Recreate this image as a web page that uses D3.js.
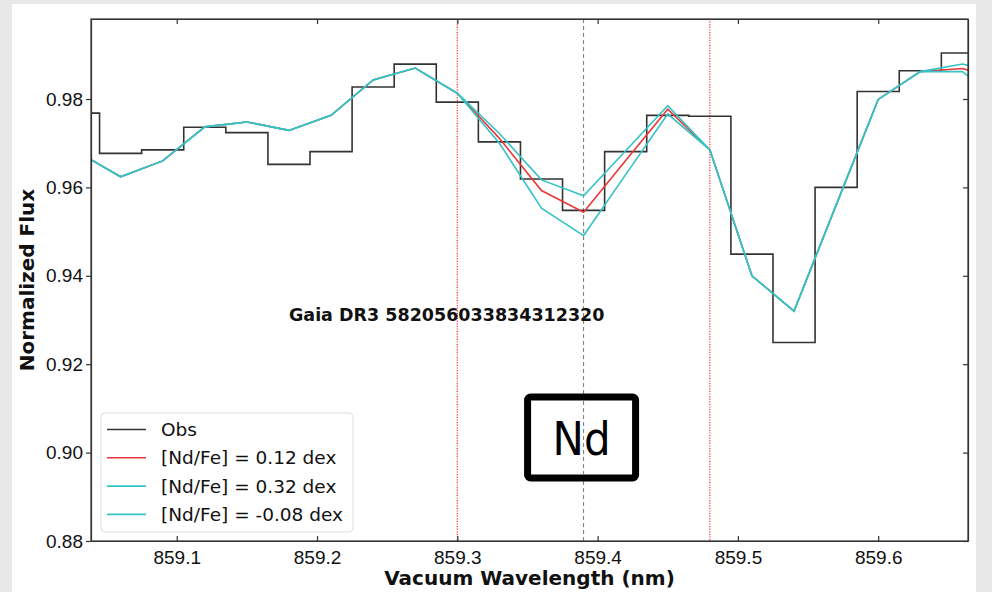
<!DOCTYPE html>
<html lang="en">
<head>
    <meta charset="UTF-8">
    <title>Nd line fit</title>
    <script src="https://d3js.org/d3.v7.min.js"></script>
    <style>
        body { margin: 0; background: #e8e8e8; }
        svg { display: block; font-family: "DejaVu Sans", sans-serif; }
        .tick text { font-size: 19px; fill: #111; }
        .domain, .tick line { stroke: #333; stroke-width: 1.2; }
    </style>
</head>
<body>
<script>
    // wavelength grid (nm) - observed pixel centres, last one just past the right edge
    const wavelength = [859.03, 859.06, 859.09, 859.12, 859.15, 859.18, 859.21, 859.24,
        859.27, 859.30, 859.33, 859.36, 859.39, 859.42, 859.45, 859.48, 859.51, 859.54,
        859.57, 859.60, 859.63, 859.66, 859.69];

    const obsFlux = [0.9768, 0.9677, 0.9685, 0.9736, 0.9724, 0.9652, 0.9681, 0.9827,
        0.9879, 0.9793, 0.9703, 0.9619, 0.9548, 0.9681, 0.9763, 0.9761, 0.9449, 0.9249,
        0.9600, 0.9817, 0.9864, 0.9904, 0.9904];

    const synBest = [0.9679, 0.9624, 0.9660, 0.9737, 0.9748, 0.9729, 0.9763, 0.9843,
        0.9870, 0.9813, 0.9711, 0.9593, 0.9544, 0.9661, 0.9777, 0.9685, 0.9400, 0.9320,
        0.9560, 0.9799, 0.9862, 0.9869, 0.9841];

    const synPlus = [0.9679, 0.9624, 0.9660, 0.9737, 0.9748, 0.9729, 0.9763, 0.9843,
        0.9870, 0.9813, 0.9700, 0.9553, 0.9491, 0.9629, 0.9766, 0.9685, 0.9400, 0.9320,
        0.9560, 0.9799, 0.9862, 0.9862, 0.9789];

    const synMinus = [0.9679, 0.9624, 0.9660, 0.9737, 0.9748, 0.9729, 0.9763, 0.9843,
        0.9870, 0.9813, 0.9722, 0.9617, 0.9581, 0.9683, 0.9785, 0.9685, 0.9400, 0.9320,
        0.9560, 0.9799, 0.9862, 0.9879, 0.9857];

    const xTicks = [859.1, 859.2, 859.3, 859.4, 859.5, 859.6];
    const yTicks = [0.88, 0.90, 0.92, 0.94, 0.96, 0.98];
    const lineCentre = 859.39;
    const windowEdges = [859.30, 859.48];

    const legendLabels = ["Obs", "[Nd/Fe] = 0.12 dex", "[Nd/Fe] = 0.32 dex", "[Nd/Fe] = -0.08 dex"];
    const starLabel = "Gaia DR3 582056033834312320";

    const W = 992, H = 592;
    const margin = {top: 19, right: 24, bottom: 51, left: 91};
    const width = W - margin.left - margin.right;
    const height = H - margin.top - margin.bottom;

    const svg = d3.select("body").append("svg")
        .attr("width", W).attr("height", H);

    // white card on grey page
    svg.append("rect").attr("x", 12).attr("y", 4).attr("width", 964).attr("height", 590)
        .attr("fill", "#fff");

    const g = svg.append("g")
        .attr("transform", "translate(" + margin.left + "," + margin.top + ")");

    const x = d3.scaleLinear().domain([859.0389, 859.664]).range([0, width]);
    const y = d3.scaleLinear().domain([0.88, 0.9981]).range([height, 0]);

    g.append("clipPath").attr("id", "clip")
        .append("rect").attr("width", width).attr("height", height);

    const plot = g.append("g").attr("clip-path", "url(#clip)");

    // marker lines
    plot.selectAll(".edge").data(windowEdges).enter().append("line")
        .attr("x1", d => x(d)).attr("x2", d => x(d))
        .attr("y1", 0).attr("y2", height)
        .attr("stroke", "#ff2a2a").attr("stroke-width", 1.2)
        .attr("stroke-dasharray", "1.2,1.4");

    plot.append("line")
        .attr("x1", x(lineCentre)).attr("x2", x(lineCentre))
        .attr("y1", 0).attr("y2", height)
        .attr("stroke", "#777").attr("stroke-width", 1)
        .attr("stroke-dasharray", "4,3");

    const stepLine = d3.line().x((d, i) => x(wavelength[i])).y(d => y(d)).curve(d3.curveStep);
    const polyLine = d3.line().x((d, i) => x(wavelength[i])).y(d => y(d));

    const cyan = "#34c3c6";
    const red = "#e8383a";
    const black = "#333";

    // same order as the legend: later ones on top
    plot.append("path").datum(obsFlux).attr("d", stepLine)
        .attr("fill", "none").attr("stroke", black).attr("stroke-width", 1.6);
    plot.append("path").datum(synBest).attr("d", polyLine)
        .attr("fill", "none").attr("stroke", red).attr("stroke-width", 1.6);
    plot.append("path").datum(synPlus).attr("d", polyLine)
        .attr("fill", "none").attr("stroke", cyan).attr("stroke-width", 1.6);
    plot.append("path").datum(synMinus).attr("d", polyLine)
        .attr("fill", "none").attr("stroke", cyan).attr("stroke-width", 1.6);

    // axes: ticks inward except on the left
    g.append("g").attr("transform", "translate(0," + height + ")")
        .call(d3.axisBottom(x).tickValues(xTicks).tickFormat(d3.format(".1f"))
            .tickSizeInner(-5).tickSizeOuter(0).tickPadding(8))
        .call(a => a.selectAll("text").attr("dy", "0.78em"));
    g.append("g")
        .call(d3.axisTop(x).tickValues(xTicks).tickFormat("").tickSizeInner(-5).tickSizeOuter(0));
    g.append("g")
        .call(d3.axisLeft(y).tickValues(yTicks).tickFormat(d3.format(".2f"))
            .tickSizeInner(5).tickSizeOuter(0).tickPadding(3));
    g.append("g").attr("transform", "translate(" + width + ",0)")
        .call(d3.axisRight(y).tickValues(yTicks).tickFormat("").tickSizeInner(-5).tickSizeOuter(0));
    g.append("rect").attr("width", width).attr("height", height)
        .attr("fill", "none").attr("stroke", "#333").attr("stroke-width", 1.2);

    // axis titles
    svg.append("text")
        .attr("x", margin.left + width / 2).attr("y", 585)
        .attr("text-anchor", "middle").attr("font-size", 20).attr("font-weight", "bold")
        .attr("fill", "#111")
        .text("Vacuum Wavelength (nm)");
    svg.append("text")
        .attr("transform", "translate(34," + (margin.top + height / 2) + ") rotate(-90)")
        .attr("text-anchor", "middle").attr("font-size", 20).attr("font-weight", "bold")
        .attr("fill", "#111")
        .text("Normalized Flux");

    // star name
    g.append("text")
        .attr("x", x(859.1) + 270).attr("y", 302)
        .attr("text-anchor", "middle").attr("font-size", 17.5).attr("font-weight", "bold")
        .attr("fill", "#111")
        .text(starLabel);

    // element box
    const bx = x(lineCentre) - 2;
    g.append("rect")
        .attr("x", bx - 54).attr("y", 378).attr("width", 108).attr("height", 81)
        .attr("rx", 3).attr("fill", "#fff").attr("stroke", "#000").attr("stroke-width", 7);
    g.append("line")
        .attr("x1", x(lineCentre)).attr("x2", x(lineCentre))
        .attr("y1", 382).attr("y2", 455)
        .attr("stroke", "#777").attr("stroke-width", 1).attr("stroke-dasharray", "4,3");
    g.append("text")
        .attr("x", bx).attr("y", 436)
        .attr("text-anchor", "middle").attr("font-size", 46)
        .attr("textLength", 58).attr("lengthAdjust", "spacingAndGlyphs")
        .attr("fill", "#000")
        .text("Nd");

    // legend
    const legendColors = [black, red, cyan, cyan];
    const leg = g.append("g").attr("transform", "translate(10,394)");
    leg.append("rect").attr("width", 252).attr("height", 119).attr("rx", 4)
        .attr("fill", "#fff").attr("fill-opacity", 0.8)
        .attr("stroke", "#ddd").attr("stroke-width", 1);
    const rows = leg.selectAll(".row").data(legendLabels).enter().append("g")
        .attr("transform", (d, i) => "translate(0," + (16.5 + i * 28.3) + ")");
    rows.append("line").attr("x1", 6).attr("x2", 45)
        .attr("stroke", (d, i) => legendColors[i]).attr("stroke-width", 1.6);
    rows.append("text").attr("x", 60).attr("dy", "0.35em")
        .attr("font-size", 18.5).attr("fill", "#111")
        .text(d => d);
</script>
</body>
</html>
